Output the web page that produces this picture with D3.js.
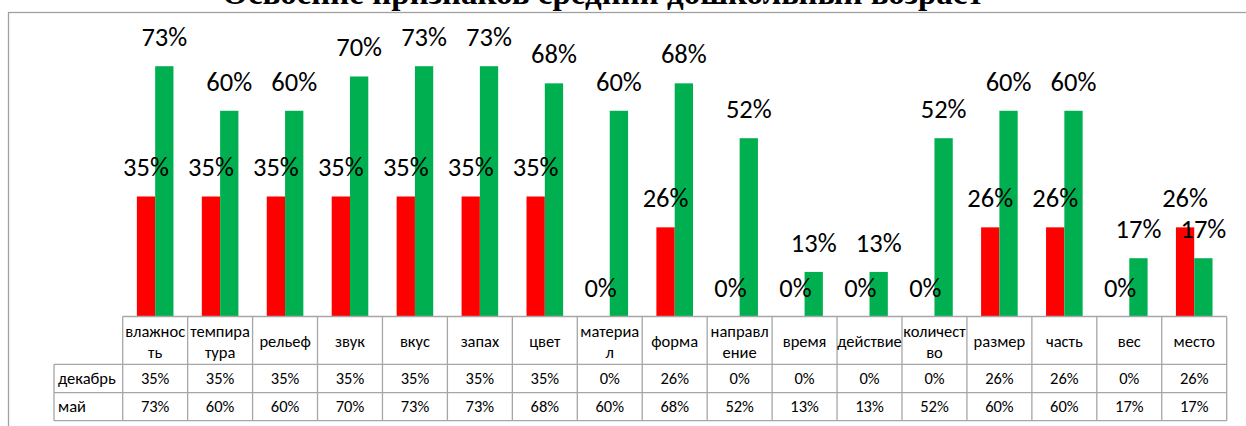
<!DOCTYPE html>
<html>
<head>
<meta charset="utf-8">
<script src="https://cdnjs.cloudflare.com/ajax/libs/d3/7.8.5/d3.min.js"></script>
<style>
  html, body { margin: 0; padding: 0; background: #fff; overflow: hidden; }
  svg { display: block; }
</style>
</head>
<body>
<svg id="chart" width="1246" height="426"></svg>
<script>
// ---- data ----
const title = "Освоение признаков средний дошкольный возраст";
const categories = ["влажнос\nть", "темпира\nтура", "рельеф", "звук", "вкус", "запах", "цвет",
  "материа\nл", "форма", "направл\nение", "время", "действие", "количест\nво", "размер",
  "часть", "вес", "место"];
const seriesNames = ["декабрь", "май"];
const december = [35, 35, 35, 35, 35, 35, 35, 0, 26, 0, 0, 0, 0, 26, 26, 0, 26];
const may = [73, 60, 60, 70, 73, 73, 68, 60, 68, 52, 13, 13, 52, 60, 60, 17, 17];
const seriesColors = ["#FF0000", "#00B050"];

// ---- layout ----
const svg = d3.select("#chart");
const W = 1246, H = 426;
const plotLeft = 122.7, plotRight = 1226.7;
const baseY = 316.5;
const rowLabelLeft = 54;
const headerBottom = 364.3, row1Bottom = 392.7, row2Bottom = 420.7;
const gridColor = "#a6a6a6";
const fontSans = "Calibri, Carlito, 'Open Sans', sans-serif";

const seriesValues = [december, may];

const x0 = d3.scaleBand().domain(d3.range(categories.length)).range([plotLeft, plotRight]).padding(0);
const bw = x0.bandwidth();
const barW = 18.3;
const outerPad = (bw - 2 * barW) / 2 / barW;
const x1 = d3.scaleBand().domain(d3.range(seriesNames.length)).range([0, bw]).paddingInner(0).paddingOuter(outerPad);
const y = d3.scaleLinear().domain([0, 80]).range([baseY, baseY - 274.3]);

// chart border
svg.append("rect")
  .attr("x", 8.5).attr("y", 12.5)
  .attr("width", W + 20).attr("height", H + 20)
  .attr("fill", "none").attr("stroke", "#a0a0a0").attr("stroke-width", 1.3);

// title
svg.append("text")
  .attr("x", 603).attr("y", 4)
  .attr("text-anchor", "middle")
  .attr("font-family", "'Times New Roman', 'Liberation Serif', serif")
  .attr("font-weight", "bold")
  .attr("font-size", 33)
  .attr("fill", "#000")
  .text(title);

// bars
const groups = svg.append("g").selectAll("g")
  .data(seriesNames.map((s, si) => ({ si, values: seriesValues[si] })))
  .join("g")
  .attr("fill", d => seriesColors[d.si]);

groups.selectAll("rect")
  .data(d => d.values.map((v, i) => ({ v, i, si: d.si })))
  .join("rect")
  .attr("x", d => x0(d.i) + x1(d.si))
  .attr("width", x1.bandwidth())
  .attr("y", d => y(d.v))
  .attr("height", d => baseY - y(d.v));

// data labels
const labels = svg.append("g");
seriesNames.forEach((s, si) => {
  labels.selectAll(null)
    .data(seriesValues[si].map((v, i) => ({ v, i })))
    .join("text")
    .attr("x", d => x0(d.i) + x1(si) + x1.bandwidth() / 2)
    .attr("y", d => y(d.v) - 20)
    .attr("text-anchor", "middle")
    .attr("font-family", fontSans)
    .attr("font-size", 26.5)
    .attr("fill", "#000")
    .text(d => d.v + "%");
});

// data table
const table = svg.append("g").attr("stroke", gridColor).attr("stroke-width", 1.3).attr("fill", "none");
table.append("line").attr("x1", plotLeft).attr("x2", plotRight).attr("y1", baseY).attr("y2", baseY);
[headerBottom, row1Bottom, row2Bottom].forEach(yy => {
  table.append("line").attr("x1", rowLabelLeft).attr("x2", plotRight).attr("y1", yy).attr("y2", yy);
});
d3.range(categories.length + 1).forEach(i => {
  const xx = i < categories.length ? x0(i) : plotRight;
  table.append("line").attr("x1", xx).attr("x2", xx).attr("y1", baseY).attr("y2", row2Bottom);
});
table.append("line").attr("x1", rowLabelLeft).attr("x2", rowLabelLeft).attr("y1", headerBottom).attr("y2", row2Bottom);

const tText = svg.append("g")
  .attr("font-family", fontSans)
  .attr("font-size", 16.5)
  .attr("fill", "#000");

// header
categories.forEach((c, i) => {
  const lines = c.split("\n");
  const cx = x0(i) + bw / 2;
  const cy = (baseY + headerBottom) / 2 + 1;
  const lh = 21;
  const t = tText.append("text").attr("text-anchor", "middle");
  lines.forEach((ln, li) => {
    t.append("tspan")
      .attr("x", cx)
      .attr("y", cy + (li - (lines.length - 1) / 2) * lh)
      .attr("dy", "0.35em")
      .text(ln);
  });
});

// rows
const rowMids = [(headerBottom + row1Bottom) / 2, (row1Bottom + row2Bottom) / 2];
seriesNames.forEach((s, si) => {
  tText.append("text")
    .attr("x", rowLabelLeft + 4)
    .attr("y", rowMids[si]).attr("dy", "0.35em")
    .text(s);
  seriesValues[si].forEach((v, i) => {
    tText.append("text")
      .attr("x", x0(i) + bw / 2)
      .attr("y", rowMids[si]).attr("dy", "0.35em")
      .attr("text-anchor", "middle")
      .text(v + "%");
  });
});
</script>
</body>
</html>
